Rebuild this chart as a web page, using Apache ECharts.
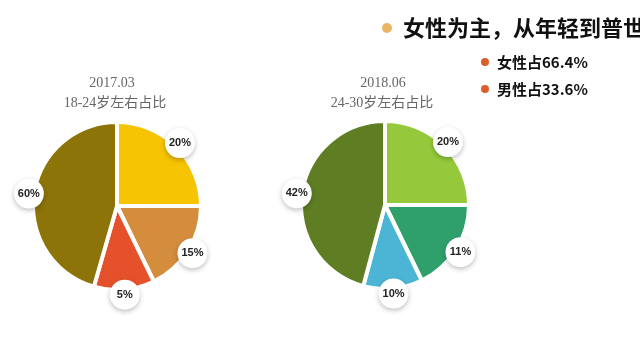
<!DOCTYPE html>
<html><head><meta charset="utf-8">
<script src="https://cdn.jsdelivr.net/npm/echarts@6/dist/echarts.min.js"></script>
<style>html,body{margin:0;padding:0;background:#fff}#c{width:640px;height:343px}</style>
</head><body><div id="c"></div>
<script>
// Left pie (2017.03, 18-24岁)
const leftLabels = ['20%', '15%', '5%', '60%'];
// angular shares of the drawn slices (degrees)
const leftShares = [90, 64, 42, 164];
const leftColors = ['#f6c402', '#d38d3d', '#e5512b', '#8d7408'];
// Right pie (2018.06, 24-30岁)
const rightLabels = ['20%', '11%', '10%', '42%'];
const rightShares = [90, 64, 41, 165];
const rightColors = ['#95c93b', '#30a06b', '#4cb5d6', '#5f7e23'];

const leftTitle = ['2017.03', '18-24岁左右占比'];
const rightTitle = ['2018.06', '24-30岁左右占比'];
const headline = '女性为主，从年轻到普世';
const bullets = ['女性占66.4%', '男性占33.6%'];

const chart = echarts.init(document.getElementById('c'), null, {renderer: 'canvas'});

function slicePie(center, shares, colors, labels) {
  return {
    type: 'pie', center: center, radius: 84, startAngle: 90, clockwise: true,
    silent: true, animation: false,
    label: {show: false}, labelLine: {show: false},
    itemStyle: {borderColor: '#ffffff', borderWidth: 4},
    data: shares.map((v, i) => ({value: v, name: labels[i], itemStyle: {color: colors[i]}}))
  };
}
function labelPie(center, shares, labels) {
  return {
    type: 'pie', center: center, radius: [76, 96], startAngle: 90, clockwise: true,
    silent: true, animation: false, z: 5,
    itemStyle: {color: 'rgba(0,0,0,0)'},
    labelLine: {show: false},
    label: {
      show: true, position: 'inside', rotate: 0,
      formatter: p => labels[p.dataIndex],
      color: '#222', fontSize: 11, fontWeight: 'bold', fontFamily: 'Liberation Sans, Arial',
      backgroundColor: '#ffffff', width: 30, height: 30, lineHeight: 30, borderRadius: 15,
      align: 'center', verticalAlign: 'middle', padding: 0,
      shadowBlur: 5, shadowColor: 'rgba(0,0,0,0.25)', shadowOffsetY: 2
    },
    data: shares.map((v, i) => ({value: v, name: labels[i]}))
  };
}

const serif = '14px "Liberation Serif", "DejaVu Serif", "Noto Sans CJK SC", serif';
chart.setOption({
  backgroundColor: '#ffffff',
  animation: false,
  series: [
    slicePie([117, 206], leftShares, leftColors, leftLabels),
    labelPie([117, 206], leftShares, leftLabels),
    slicePie([385, 205], rightShares, rightColors, rightLabels),
    labelPie([385, 205], rightShares, rightLabels)
  ],
  graphic: [
    {type: 'text', x: 112, y: 83, style: {text: leftTitle[0], align: 'center', verticalAlign: 'middle', font: serif, fill: '#666'}},
    {type: 'text', x: 115, y: 103, style: {text: leftTitle[1], align: 'center', verticalAlign: 'middle', font: serif, fill: '#666'}},
    {type: 'text', x: 383, y: 83, style: {text: rightTitle[0], align: 'center', verticalAlign: 'middle', font: serif, fill: '#666'}},
    {type: 'text', x: 382, y: 103, style: {text: rightTitle[1], align: 'center', verticalAlign: 'middle', font: serif, fill: '#666'}},
    {type: 'circle', shape: {cx: 387, cy: 28, r: 5}, style: {fill: '#ebb566'}},
    {type: 'text', x: 403, y: 28, style: {text: headline, align: 'left', verticalAlign: 'middle', font: 'bold 22px "Noto Sans CJK SC", sans-serif', fill: '#111'}},
    {type: 'circle', shape: {cx: 485, cy: 62, r: 4}, style: {fill: '#d9602a'}},
    {type: 'text', x: 497, y: 62, style: {text: bullets[0], align: 'left', verticalAlign: 'middle', font: 'bold 15px "Noto Sans CJK SC", sans-serif', fill: '#111'}},
    {type: 'circle', shape: {cx: 485, cy: 89, r: 4}, style: {fill: '#d9602a'}},
    {type: 'text', x: 497, y: 89, style: {text: bullets[1], align: 'left', verticalAlign: 'middle', font: 'bold 15px "Noto Sans CJK SC", sans-serif', fill: '#111'}}
  ]
});
</script>
</body></html>
